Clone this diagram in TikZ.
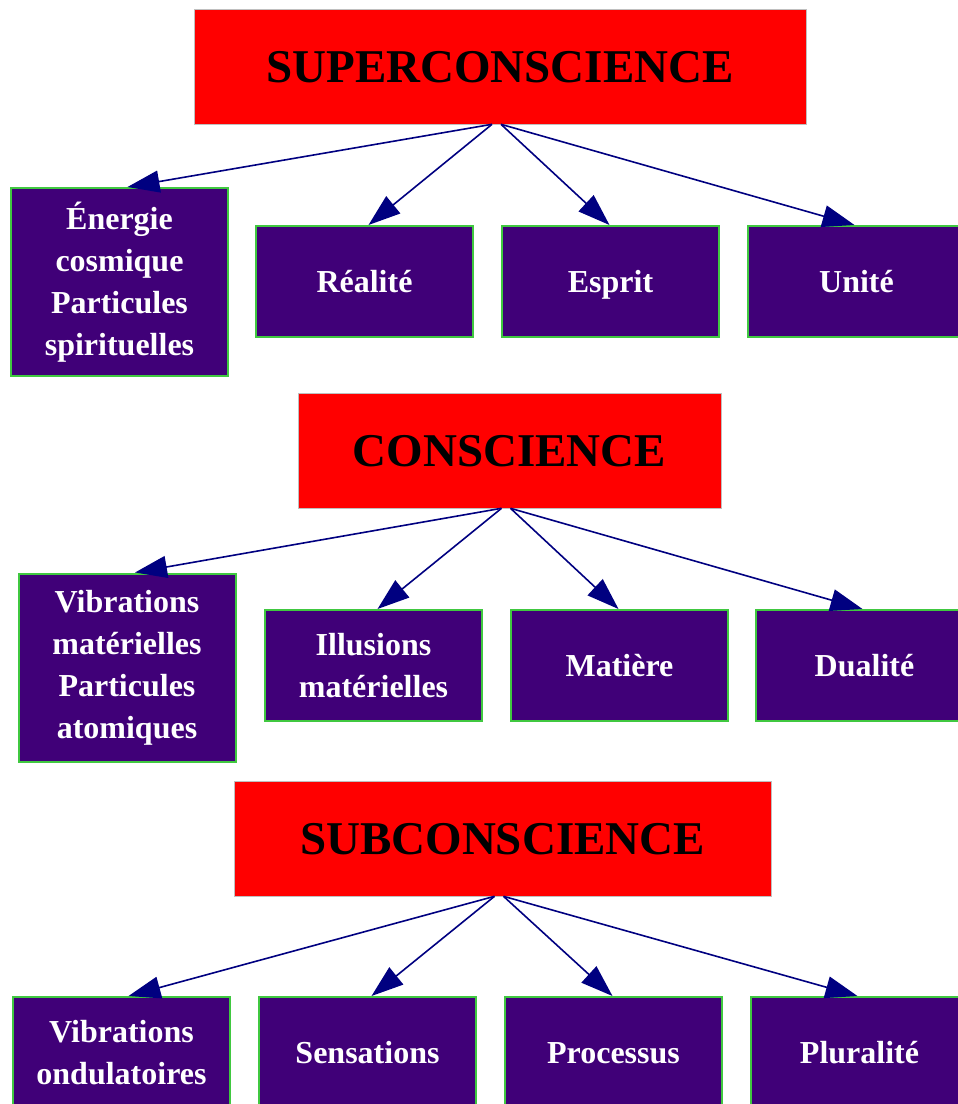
\documentclass[tikz,border=0pt]{standalone}
\usepackage{fontspec}
\setmainfont{Liberation Serif}
\usetikzlibrary{arrows.meta,calc}
\definecolor{levelred}{RGB}{255,0,0}
\definecolor{itempurple}{RGB}{64,0,120}
\definecolor{itemgreen}{RGB}{64,200,64}
\definecolor{linknavy}{RGB}{0,0,128}
\begin{document}
\begin{tikzpicture}[x=1pt,y=-1pt,
  level/.style={fill=levelred, draw=gray!50, line width=0.6pt, inner sep=0pt,
    minimum height=115pt, text height=31pt, text depth=0pt,
    font=\fontsize{47}{50}\selectfont\bfseries},
  item/.style={fill=itempurple, draw=itemgreen, line width=2pt, text=white,
    inner sep=0pt, align=center, minimum width=217pt, minimum height=111pt,
    font=\fontsize{32}{42}\selectfont\bfseries},
  oneline/.style={text height=21pt, text depth=0pt},
  tall/.style={minimum height=188pt},
  link/.style={draw=linknavy, line width=1.6pt,
    -{Triangle[length=32pt,width=22pt]}}
]
\useasboundingbox (0,0) rectangle (958,1104);
\clip (0,0) rectangle (958,1104);

% --- upper level ---
\node[level, minimum width=612pt] (sup) at (500,66.5) {SUPERCONSCIENCE};
\node[item, tall] (energie) at (119.5,282) {Énergie\\cosmique\\Particules\\spirituelles};
\node[item, oneline] (realite) at (364.5,281.5) {Réalité};
\node[item, oneline] (esprit) at (610.5,281.5) {Esprit};
\node[item, oneline] (unite) at (856.5,281.5) {Unité};

% --- middle level ---
\node[level, minimum width=423pt] (con) at (509.5,450.5) {CONSCIENCE};
\node[item, tall] (vibmat) at (127,667.5) {Vibrations\\matérielles\\Particules\\atomiques};
\node[item] (illusions) at (373.5,665.5) {Illusions\\matérielles};
\node[item, oneline] (matiere) at (619.5,665.5) {Matière};
\node[item, oneline] (dualite) at (864.5,665.5) {Dualité};

% --- lower level ---
\node[level, minimum width=537pt] (sub) at (502.5,838.5) {SUBCONSCIENCE};
\node[item] (vibond) at (121.5,1052.5) {Vibrations\\ondulatoires};
\node[item, oneline] (sensations) at (367.5,1052.5) {Sensations};
\node[item, oneline] (processus) at (613.5,1052.5) {Processus};
\node[item, oneline] (pluralite) at (859.5,1052.5) {Pluralité};

% --- connectors ---
\draw[link] ($(sup.south)+(-8,0)$) -- ($(energie.north)+(8,0)$);
\draw[link] ($(sup.south)+(-8,0)$) -- ($(realite.north)+(4,0)$);
\draw[link] ($(sup.south)+(1,0)$) -- ($(esprit.north)+(-1,0)$);
\draw[link] ($(sup.south)+(1,0)$) -- ($(unite.north)+(-2,0)$);

\draw[link] ($(con.south)+(-8,0)$) -- ($(vibmat.north)+(8,0)$);
\draw[link] ($(con.south)+(-8,0)$) -- ($(illusions.north)+(4,0)$);
\draw[link] ($(con.south)+(1,0)$) -- ($(matiere.north)+(-1,0)$);
\draw[link] ($(con.south)+(1,0)$) -- ($(dualite.north)+(-2,0)$);

\draw[link] ($(sub.south)+(-8,0)$) -- ($(vibond.north)+(7,0)$);
\draw[link] ($(sub.south)+(-8,0)$) -- ($(sensations.north)+(4,0)$);
\draw[link] ($(sub.south)+(1,0)$) -- ($(processus.north)+(-1,0)$);
\draw[link] ($(sub.south)+(1,0)$) -- ($(pluralite.north)+(-2,0)$);
\end{tikzpicture}
\end{document}
